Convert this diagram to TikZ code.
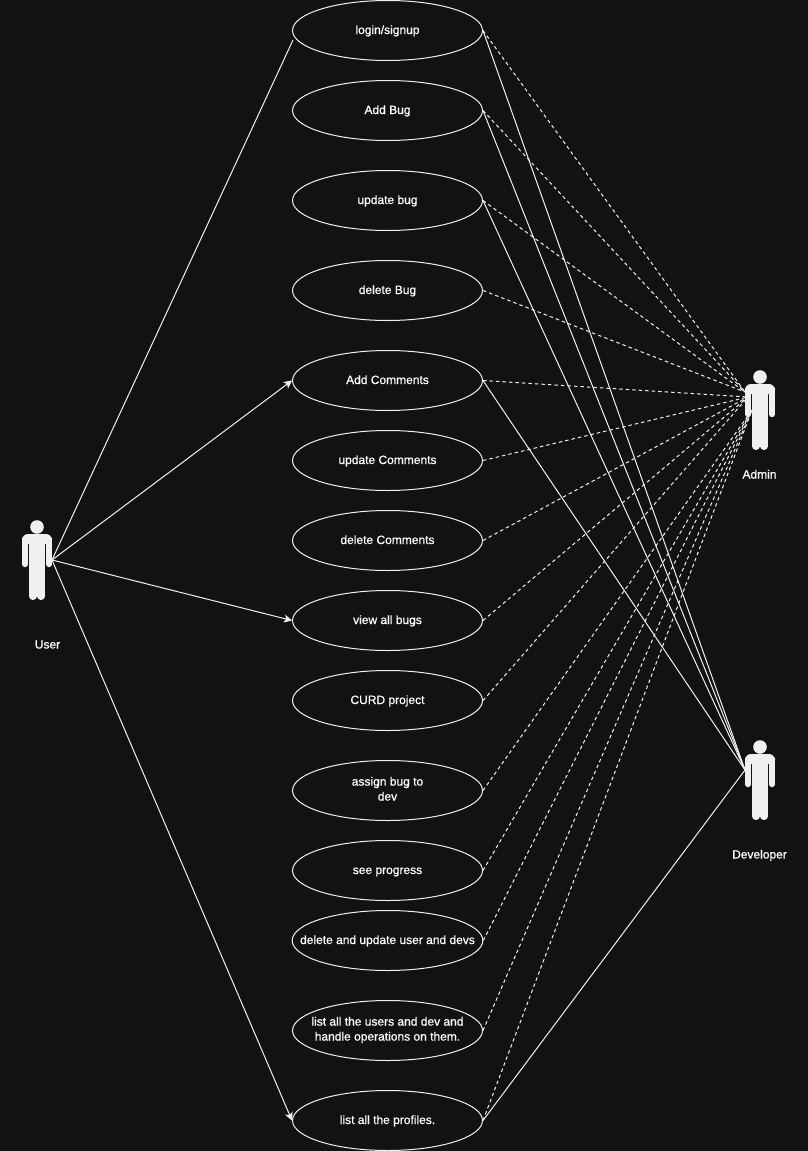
\documentclass[tikz,border=0pt]{standalone}
\usepackage{fontspec}
\setmainfont{Liberation Sans}
\newfontfamily\lblfont[RawFeature={embolden=0.7}]{Liberation Sans}
\usetikzlibrary{arrows.meta,shapes.geometric}
\definecolor{bgc}{HTML}{121212}
\definecolor{ink}{HTML}{F0F0F0}
\newcommand\lblstrut{\rule[-3.5pt]{0pt}{14pt}}
\tikzset{
  usecase/.style={ellipse,draw=ink,line width=1pt,minimum width=190pt,minimum height=60pt,inner ysep=0pt,inner xsep=-20pt,align=center,text=white,font=\lblfont\fontsize{12}{15}\selectfont,execute at begin node=\lblstrut,execute at end node=\lblstrut},
  actorlabel/.style={text=white,font=\lblfont\fontsize{12}{15}\selectfont,inner sep=0pt,execute at begin node=\lblstrut},
  assoc/.style={draw=ink,line width=1pt},
  dash3/.style={draw=ink,line width=1pt,dash pattern=on 3.5pt off 3pt},
  arrowed/.style={assoc,-{Stealth[length=8pt,width=8pt,inset=2pt]}},
  figure/.pic={
    \fill[ink] (0,7) circle (6.8);
    \fill[ink,rounded corners=6pt] (-15,24) -- (-15,14) -- (15,14) -- (15,24) -- cycle;
    \fill[ink] (-8,18) rectangle (8,46);
    \draw[ink,line width=6pt,line cap=round] (-12,20) -- (-12,44.2);
    \draw[ink,line width=6pt,line cap=round] (12,20) -- (12,44.2);
    \draw[ink,line width=7.7pt,line cap=round] (-4.1,40) -- (-4.1,76.2);
    \draw[ink,line width=7.7pt,line cap=round] (4.1,40) -- (4.1,76.2);
  }
}
\begin{document}
\begin{tikzpicture}[x=1pt,y=-1pt]
\useasboundingbox[fill=bgc] (0,0) rectangle (808,1151);
\node[usecase] (uc1) at (387.5,30.5) {login/signup};
\node[usecase] (uc2) at (387.5,110.5) {Add Bug};
\node[usecase] (uc3) at (387.5,200.5) {update bug};
\node[usecase] (uc4) at (387.5,290.5) {delete Bug};
\node[usecase] (uc5) at (387.5,380.5) {Add Comments};
\node[usecase] (uc6) at (387.5,460.5) {update Comments};
\node[usecase] (uc7) at (387.5,540.5) {delete Comments};
\node[usecase] (uc8) at (387.5,620.5) {view all bugs};
\node[usecase] (uc9) at (387.5,700.5) {CURD project};
\node[usecase] (uc10) at (387.5,790.5) {assign bug to\\dev};
\node[usecase] (uc11) at (387.5,870.5) {see progress};
\node[usecase] (uc12) at (387.5,940.5) {delete and update user and devs};
\node[usecase] (uc13) at (387.5,1030.5) {list all the users and dev and\\handle operations on them.};
\node[usecase] (uc14) at (387.5,1120.5) {list all the profiles.};
\pic at (37,520) {figure};
\pic at (760,370) {figure};
\pic at (760,740) {figure};
\node[actorlabel] (user) at (47.5,645) {User};
\node[actorlabel] (admin) at (759.5,475) {Admin};
\node[actorlabel] (dev) at (759.5,855) {Developer};
\coordinate (userhand) at (52,560);
\coordinate (admintop) at (745,392);
\coordinate (adminmid) at (748,397);
\coordinate (adminlow) at (752,410);
\coordinate (devhand) at (745,770);
\coordinate (uclogin) at (293,40);
\draw[assoc] (userhand) -- (uclogin);
\draw[arrowed] (userhand) -- (uc5.west);
\draw[arrowed] (userhand) -- (uc8.west);
\draw[arrowed] (userhand) -- (uc14.west);
\foreach \n in {1,2,3,4}{\draw[dash3] (uc\n.east) -- (admintop);}
\foreach \n in {5,6,7,8,9}{\draw[dash3] (uc\n.east) -- (adminmid);}
\foreach \n in {10,11,12,13,14}{\draw[dash3] (uc\n.east) -- (adminlow);}
\foreach \n in {1,2,3,5,14}{\draw[assoc] (uc\n.east) -- (devhand);}
\end{tikzpicture}
\end{document}
